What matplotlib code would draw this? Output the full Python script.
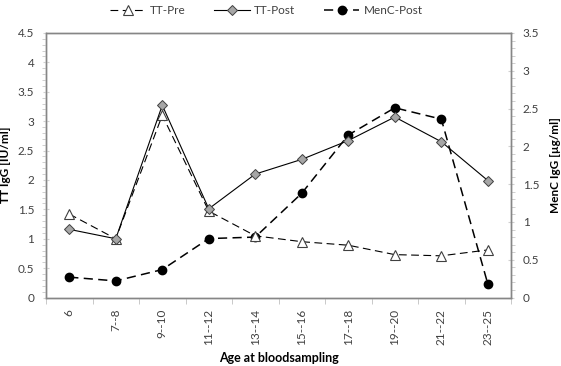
import numpy as np
import matplotlib.pyplot as plt
from matplotlib.ticker import MultipleLocator

plt.rcParams['font.family'] = ['Lato', 'DejaVu Sans']

ages = ["6", "7--8", "9--10", "11--12", "13--14", "15--16", "17--18", "19--20", "21--22", "23--25"]
tt_pre = [1.42, 1.00, 3.10, 1.47, 1.05, 0.95, 0.89, 0.73, 0.71, 0.81]
tt_post = [1.16, 1.00, 3.27, 1.51, 2.10, 2.35, 2.67, 3.07, 2.65, 1.99]
menc_post = [0.27, 0.22, 0.37, 0.78, 0.80, 1.38, 2.15, 2.51, 2.36, 0.18]

fig = plt.figure(figsize=(5.61, 3.66), dpi=100)
ax = fig.add_axes([0.082, 0.187, 0.829, 0.723])
ax2 = ax.twinx()

x = np.arange(len(ages))
grey = "#868686"
txt = "#404040"

l1, = ax.plot(x, tt_pre, color="black", lw=0.8, dashes=(7, 4), marker="^", ms=7,
              mfc="white", mec="#404040", mew=0.8, label="TT-Pre")
l2, = ax.plot(x, tt_post, color="black", lw=0.8, marker="D", ms=5,
              mfc="#a6a6a6", mec="#404040", mew=0.7, label="TT-Post")
l3, = ax2.plot(x, menc_post, color="black", lw=1.1, dashes=(6, 3.5), marker="o", ms=6,
               mfc="black", mec="black", label="MenC-Post")
ax.set_zorder(ax2.get_zorder() + 1)
ax.patch.set_visible(False)

ax.set_xlim(-0.5, len(ages) - 0.5)
ax.set_ylim(0, 4.5)
ax2.set_ylim(0, 3.5)
ax.yaxis.set_minor_locator(MultipleLocator(0.1))
ax2.yaxis.set_minor_locator(MultipleLocator(0.1))
ax.set_yticks(np.arange(0, 4.6, 0.5))
ax.set_yticklabels(["0", "0.5", "1", "1.5", "2", "2.5", "3", "3.5", "4", "4.5"])
ax2.set_yticks(np.arange(0, 3.6, 0.5))
ax2.set_yticklabels(["0", "0.5", "1", "1.5", "2", "2.5", "3", "3.5"])

ax.set_xticks(x)
ax.set_xticklabels(ages, rotation=90)
ax.set_xticks(np.arange(-0.5, len(ages), 1), minor=True)
ax.tick_params(axis="x", which="major", length=0, pad=8, labelsize=8.5, labelcolor=txt)
ax.tick_params(axis="x", which="minor", length=4, color="#c0c0c0", direction="out")

for a in (ax, ax2):
    a.tick_params(axis="y", which="major", length=5, color="#d0d0d0", direction="inout",
                  labelsize=8.5, labelcolor=txt, pad=6)
    a.tick_params(axis="y", which="minor", length=3, color="#c8c8c8", direction="out")
    for s in a.spines.values():
        s.set_color(grey)
        s.set_linewidth(1.0)

ax.set_xlabel("Age at bloodsampling", fontweight="bold", fontsize=9, color="black", labelpad=5)
ax.set_ylabel("TT IgG [IU/ml]", fontweight="bold", fontsize=8.5, color="black", labelpad=5)
ax2.set_ylabel("MenC IgG [\u00b5g/ml]", fontweight="bold", fontsize=8.5, color="black", labelpad=8)

fig.legend(handles=[l1, l2, l3], loc="upper center", bbox_to_anchor=(0.475, 1.015),
           ncol=3, frameon=False, fontsize=8.5, handlelength=3.0, columnspacing=2.4,
           handletextpad=0.4, labelcolor=txt)

fig.savefig("out.png", dpi=100)
